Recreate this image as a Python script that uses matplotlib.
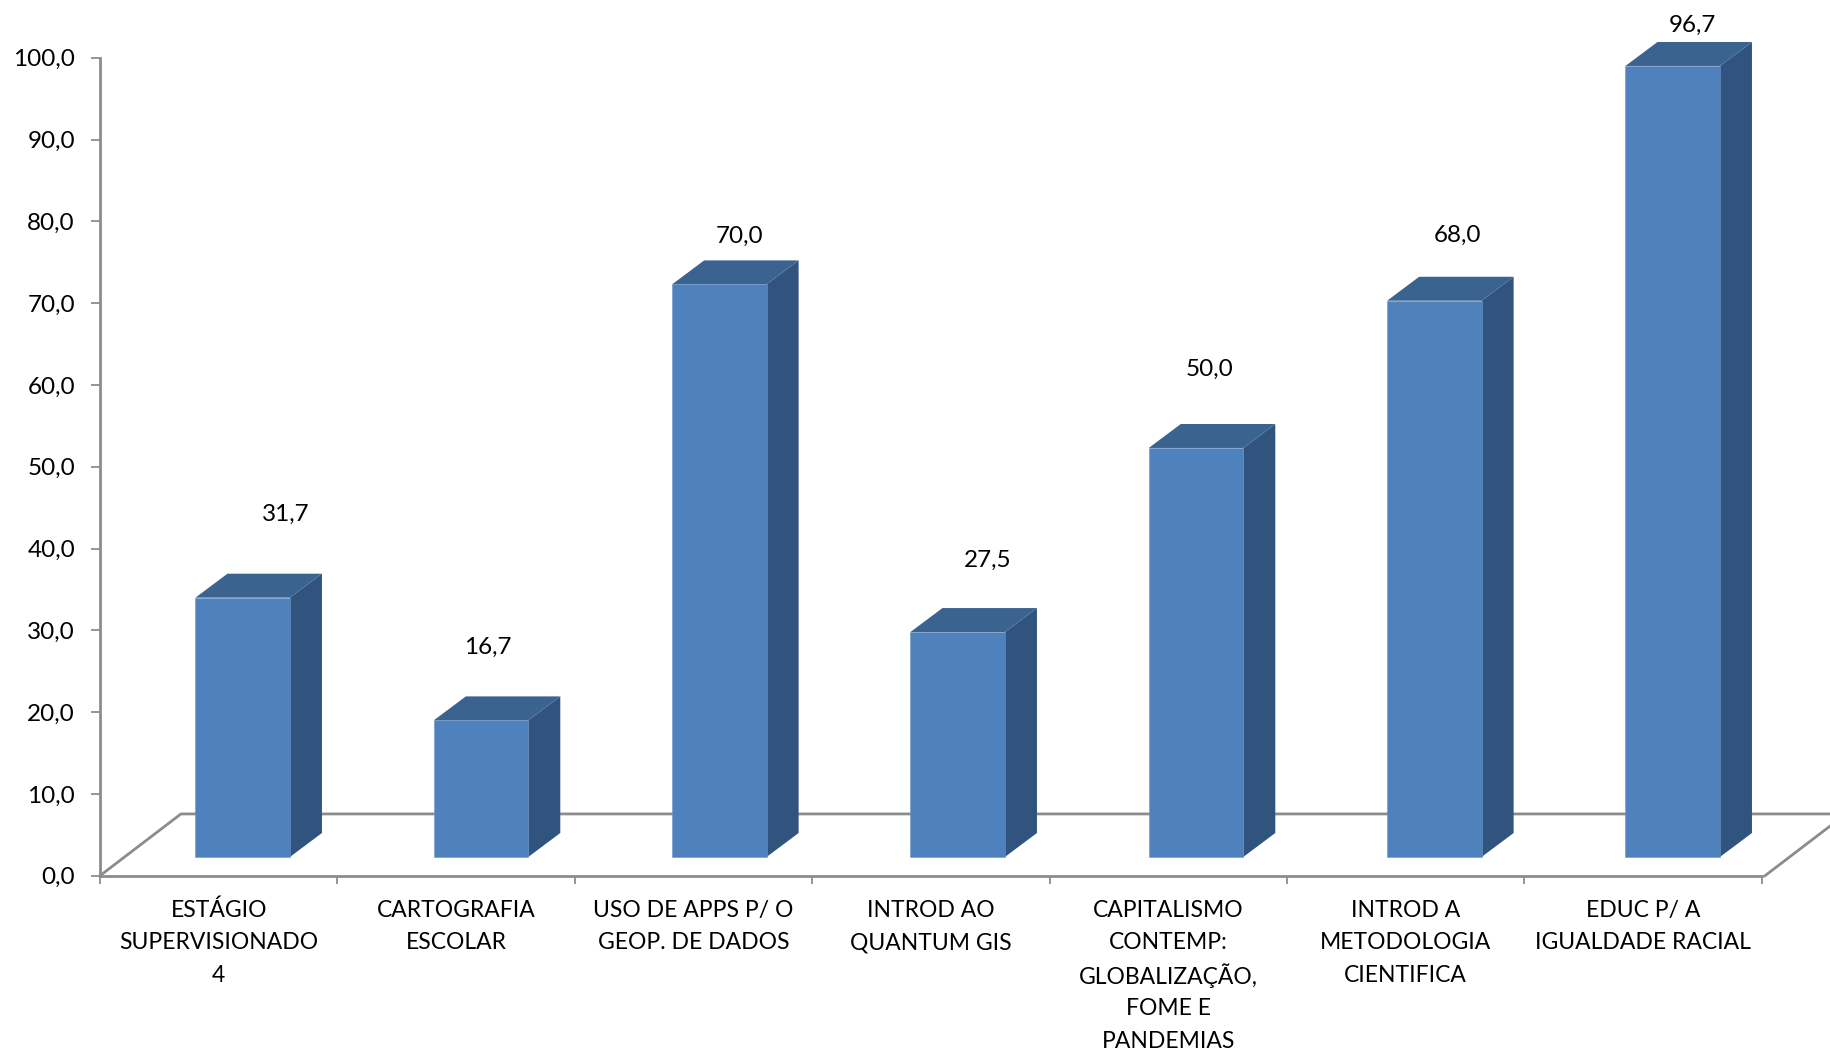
#!/usr/bin/python3

import matplotlib
matplotlib.use("Agg")
import matplotlib.pyplot as plt
from matplotlib.patches import Polygon

plt.rcParams['font.family'] = ['Lato', 'DejaVu Sans']

categories = ["ESTÁGIO\nSUPERVISIONADO\n4",
              "CARTOGRAFIA\nESCOLAR",
              "USO DE APPS P/ O\nGEOP. DE DADOS",
              "INTROD AO\nQUANTUM GIS",
              "CAPITALISMO\nCONTEMP:\nGLOBALIZAÇÃO,\nFOME E\nPANDEMIAS",
              "INTROD A\nMETODOLOGIA\nCIENTIFICA",
              "EDUC P/ A\nIGUALDADE RACIAL"]
values = [31.7, 16.7, 70.0, 27.5, 50.0, 68.0, 96.7]
value_labels = ["31,7", "16,7", "70,0", "27,5", "50,0", "68,0", "96,7"]
y_ticks = [0, 10, 20, 30, 40, 50, 60, 70, 80, 90, 100]
y_tick_labels = ["0,0", "10,0", "20,0", "30,0", "40,0", "50,0", "60,0", "70,0", "80,0", "90,0", "100,0"]

# hand placed data labels in the original, offset from the bar top (pixels)
label_dx = [43, 7, 20, 30, 14, 23, 20]
label_dy = [83, 73, 48, 72, 79, 65, 41]

AXIS_GREY = '#8c8c8c'
FRONT = '#4f81bd'
SIDE = '#31547f'
TOP = '#3b6390'

W, H = 1831, 1052
fig = plt.figure(figsize=(W / 100, H / 100), dpi=100, facecolor='white')
ax = fig.add_axes([100 / W, 1 - 875.7 / H, 1661.7 / W, 818 / H])
ax.set_xlim(0, 7)
ax.set_ylim(0, 100)

# 3d look: floor and bar depth in data units
bar_base = 2.29
bar_width = 0.398
bar_start = 0.402
bar_step = 1.004
depth_x = 0.135
depth_y = 2.93
floor_x = 0.341
floor_y = 7.55

# floor
ax.plot([0, floor_x, 7.4], [0, floor_y, floor_y], color=AXIS_GREY, lw=2.0, clip_on=False, zorder=1)
ax.plot([7.014, 7.014 + floor_x], [0, floor_y], color=AXIS_GREY, lw=2.0, clip_on=False, zorder=1)

for i in range(len(values)):
    left = bar_start + i * bar_step
    right = left + bar_width
    top = bar_base + values[i]

    ax.add_patch(Polygon([(right, bar_base), (right + depth_x, bar_base + depth_y),
                          (right + depth_x, top + depth_y), (right, top)],
                         facecolor=SIDE, edgecolor='none', clip_on=False, zorder=3))
    ax.add_patch(Polygon([(left, top), (left + depth_x, top + depth_y),
                          (right + depth_x, top + depth_y), (right, top)],
                         facecolor=TOP, edgecolor='none', clip_on=False, zorder=3))
    ax.bar(left, values[i], width=bar_width, bottom=bar_base, align='edge',
           color=FRONT, edgecolor='#6b95c8', linewidth=0.4, zorder=4)

    ax.annotate(value_labels[i], xy=(left + bar_width / 2, top),
                xytext=(label_dx[i], label_dy[i]), textcoords='offset pixels',
                ha='center', va='center', fontsize=17.5, color='black',
                annotation_clip=False, zorder=5)

for s in ['top', 'right']:
    ax.spines[s].set_visible(False)
for s in ['left', 'bottom']:
    ax.spines[s].set_color(AXIS_GREY)
    ax.spines[s].set_linewidth(2.0)
    ax.spines[s].set_zorder(2)

ax.set_yticks(y_ticks)
ax.set_yticklabels(y_tick_labels)
ax.tick_params(axis='y', length=6.5, width=1.3, color=AXIS_GREY, pad=11.5, labelsize=17.5)

ax.set_xticks(range(8))
ax.set_xticklabels([])
ax.tick_params(axis='x', which='major', length=5.5, width=1.3, color=AXIS_GREY)

# one text per line, matplotlib spaces lines unevenly when they have accents
for i in range(len(categories)):
    for j, line in enumerate(categories[i].split("\n")):
        ax.annotate(line, xy=(i + 0.5, 0), xytext=(0, -32.5 - 32.7 * j),
                    textcoords='offset pixels', ha='center', va='center_baseline',
                    fontsize=16.5, color='black', annotation_clip=False)

fig.savefig('out.png', dpi=100, facecolor='white')
